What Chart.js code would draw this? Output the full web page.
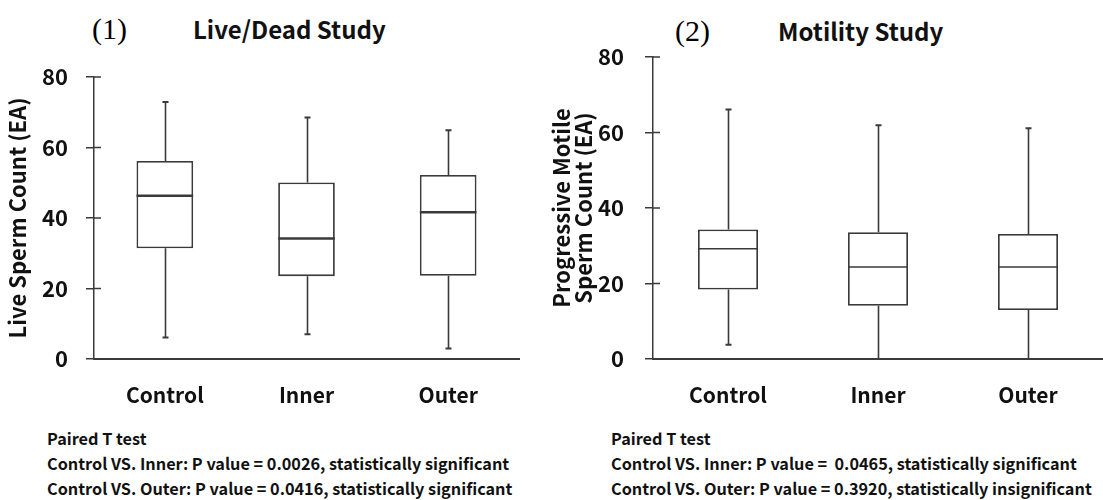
<!DOCTYPE html>
<html>
<head>
<meta charset="utf-8">
<script src="https://cdn.jsdelivr.net/npm/chart.js@4.4.1/dist/chart.umd.min.js"></script>
<style>
  html, body { margin: 0; padding: 0; background: #fff; }
  #page { position: relative; width: 1103px; height: 500px; overflow: hidden; }
  canvas { position: absolute; top: 0; }
  .num { position: absolute; font-family: "Liberation Serif", "Times New Roman", serif; font-size: 30px; line-height: 30px; color: #000; white-space: nowrap; }
  .ttl { position: absolute; font-family: "Noto Sans CJK KR", "Noto Sans", sans-serif; font-weight: 700; font-size: 24px; line-height: 30px; color: #111; white-space: nowrap; }
  .note { position: absolute; font-family: "Noto Sans CJK KR", "Noto Sans", sans-serif; font-weight: 700; font-size: 16.25px; line-height: 25px; color: #111; white-space: nowrap; }
</style>
</head>
<body>
<div id="page">
  <div class="num" style="left:92px; top:14px;">(1)</div>
  <div class="ttl" style="left:193px; top:14px;">Live/Dead Study</div>
  <div class="num" style="left:675px; top:16px;">(2)</div>
  <div class="ttl" style="left:778px; top:16px;">Motility Study</div>

  <canvas id="live" width="545" height="420" style="left:0;"></canvas>
  <canvas id="motility" width="558" height="420" style="left:545px;"></canvas>

  <div class="note" style="left:47px; top:426px;">Paired T test<br>Control VS. Inner: P value = 0.0026, statistically significant<br>Control VS. Outer: P value = 0.0416, statistically significant</div>
  <div class="note" style="left:611px; top:426px;">Paired T test<br>Control VS. Inner: P value = &nbsp;0.0465, statistically significant<br>Control VS. Outer: P value = 0.3920, statistically insignificant</div>
</div>

<script>
// Groups on the x axis
const groups = ['Control', 'Inner', 'Outer'];
const yTicks = [0, 20, 40, 60, 80];

// Live/Dead study: five-number summaries per group
const liveMin    = [6.1, 7.0, 3.0];
const liveQ1     = [31.4, 23.5, 23.6];
const liveMedian = [46.3, 34.2, 41.6];
const liveQ3     = [56.2, 50.1, 52.2];
const liveMax    = [72.9, 68.5, 64.9];

// Motility study: five-number summaries per group
const motMin    = [3.8, 0, 0];
const motQ1     = [18.4, 14.1, 13.0];
const motMedian = [29.2, 24.4, 24.4];
const motQ3     = [34.3, 33.6, 33.1];
const motMax    = [66.1, 61.9, 61.1];

const FONT = '"Noto Sans CJK KR", "Noto Sans", sans-serif';
const INK = '#3a3a3a';

// Whiskers, caps and median lines drawn on top of the floating-bar boxes
const boxExtras = {
  id: 'boxExtras',
  afterDatasetsDraw(chart, args, o) {
    const { ctx } = chart;
    const y = chart.scales.y;
    const meta = chart.getDatasetMeta(0);
    ctx.save();
    ctx.strokeStyle = INK;
    ctx.lineCap = 'butt';
    meta.data.forEach((bar, i) => {
      const cx = Math.round(bar.x) + 0.5;
      const yMin = y.getPixelForValue(o.min[i]);
      const yQ1 = y.getPixelForValue(o.q1[i]);
      const yQ3 = y.getPixelForValue(o.q3[i]);
      const yMax = y.getPixelForValue(o.max[i]);
      const yMed = y.getPixelForValue(o.median[i]);
      // whiskers
      ctx.lineWidth = o.whiskerWidth;
      ctx.beginPath();
      ctx.moveTo(cx, yQ3); ctx.lineTo(cx, yMax);
      ctx.moveTo(cx, yQ1); ctx.lineTo(cx, yMin);
      ctx.stroke();
      // caps
      ctx.lineWidth = 2;
      ctx.beginPath();
      ctx.moveTo(cx - o.cap, yMax); ctx.lineTo(cx + o.cap, yMax);
      ctx.moveTo(cx - o.cap, yMin); ctx.lineTo(cx + o.cap, yMin);
      ctx.stroke();
      // median
      ctx.lineWidth = o.medianWidth;
      ctx.beginPath();
      ctx.moveTo(bar.x - bar.width / 2, yMed); ctx.lineTo(bar.x + bar.width / 2, yMed);
      ctx.stroke();
    });
    ctx.restore();
  }
};

// Inner half of the y-axis tick marks (ticks cross the axis line)
const innerTicks = {
  id: 'innerTicks',
  afterDraw(chart, args, o) {
    const { ctx } = chart;
    const y = chart.scales.y;
    const left = chart.chartArea.left;
    ctx.save();
    ctx.strokeStyle = INK;
    ctx.lineWidth = 1.5;
    ctx.beginPath();
    y.ticks.forEach(t => {
      const py = y.getPixelForValue(t.value);
      ctx.moveTo(left, py); ctx.lineTo(left + o.length, py);
    });
    ctx.stroke();
    ctx.restore();
  }
};

function makeChart(id, cfg) {
  return new Chart(document.getElementById(id), {
    type: 'bar',
    data: {
      labels: groups,
      datasets: [{
        data: cfg.q1.map((v, i) => [v, cfg.q3[i]]),
        backgroundColor: '#ffffff',
        borderColor: INK,
        borderWidth: cfg.boxWidth,
        borderSkipped: false,
        barPercentage: 0.4,
        categoryPercentage: 1.0
      }]
    },
    options: {
      responsive: false,
      animation: false,
      events: [],
      layout: { padding: { left: 0, right: cfg.padRight, top: cfg.top, bottom: 0 } },
      plugins: {
        legend: { display: false },
        tooltip: { enabled: false },
        boxExtras: {
          min: cfg.min, q1: cfg.q1, median: cfg.median, q3: cfg.q3, max: cfg.max,
          whiskerWidth: 1.6, medianWidth: cfg.medianWidth, cap: 3
        },
        innerTicks: { length: 7 }
      },
      scales: {
        x: {
          grid: { display: true, drawOnChartArea: false, drawTicks: false },
          border: { display: true, color: INK, width: 2 },
          ticks: { color: '#111', padding: 23, font: { family: FONT, size: 21, weight: 'bold' } },
          afterFit: s => { s.height = cfg.xHeight; }
        },
        y: {
          min: 0, max: 80,
          afterBuildTicks: s => { s.ticks = yTicks.map(v => ({ value: v })); },
          grid: { drawOnChartArea: false, drawTicks: true, tickLength: 8, color: INK, lineWidth: 1.5 },
          border: { display: true, color: INK, width: 1.5 },
          ticks: { color: '#111', padding: cfg.tickPad, font: { family: FONT, size: 22, weight: 'bold' } },
          title: {
            display: true, text: cfg.yTitle, color: '#111',
            font: { family: FONT, size: 22, weight: 'bold', lineHeight: 1 },
            padding: { top: cfg.titlePad, bottom: 0 }
          },
          afterFit: s => { s.width = cfg.yWidth; }
        }
      }
    },
    plugins: [boxExtras, innerTicks]
  });
}

makeChart('live', {
  min: liveMin, q1: liveQ1, median: liveMedian, q3: liveQ3, max: liveMax,
  yTitle: 'Live Sperm Count (EA)',
  top: 77, padRight: 26, yWidth: 94, xHeight: 61, tickPad: 18, titlePad: 7,
  boxWidth: 1.8, medianWidth: 2.5
});

makeChart('motility', {
  min: motMin, q1: motQ1, median: motMedian, q3: motQ3, max: motMax,
  yTitle: ['Progressive Motile', 'Sperm Count (EA)'],
  top: 57, padRight: 0, yWidth: 108, xHeight: 61, tickPad: 21, titlePad: 6,
  boxWidth: 1.8, medianWidth: 1.5
});
</script>
</body>
</html>
